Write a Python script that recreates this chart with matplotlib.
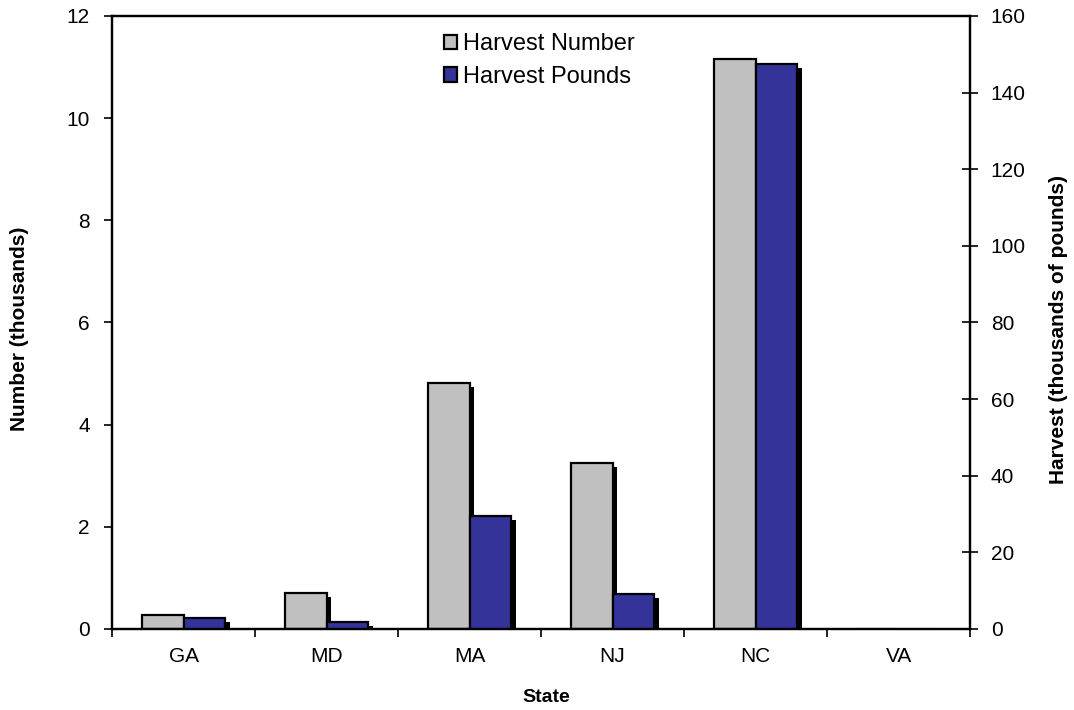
import numpy as np
import matplotlib
matplotlib.use("Agg")
import matplotlib.pyplot as plt
import matplotlib.patheffects as pe
from matplotlib.patches import Patch

plt.rcParams['font.family'] = ['Liberation Sans', 'DejaVu Sans']

states = ["GA", "MD", "MA", "NJ", "NC", "VA"]
harvest_number = [0.27, 0.70, 4.82, 3.25, 11.15, 0.0]      # thousands
harvest_pounds = [2.8, 1.8, 29.6, 9.1, 147.5, 0.0]        # thousands of pounds

fig = plt.figure(figsize=(10.74, 7.10), dpi=100)
ax = fig.add_axes([0.1043, 0.1141, 0.7989, 0.8634])
ax2 = ax.twinx()

x = np.arange(len(states))
w = 0.29
shadow = [pe.SimplePatchShadow(offset=(3.5, -3), shadow_rgbFace='black', alpha=1.0), pe.Normal()]

b1 = ax.bar(x - w / 2, harvest_number, w, color='#C0C0C0', edgecolor='black', linewidth=1.6)
b2 = ax2.bar(x + w / 2, harvest_pounds, w, color='#333399', edgecolor='black', linewidth=1.6)
for bars in (b1, b2):
    for p, v in zip(bars.patches, bars.datavalues):
        if v > 0:
            p.set_path_effects(shadow)
        else:
            p.set_edgecolor('#C8C8C8')

ax.set_xlim(-0.5, len(states) - 0.5)
ax.set_ylim(0, 12)
ax2.set_ylim(0, 160)
ax.set_yticks(range(0, 13, 2))
ax2.set_yticks(range(0, 161, 20))

ax.set_xticks(x)
ax.set_xticklabels(states)
ax.set_xticks(np.arange(-0.5, len(states)), minor=True)
ax.tick_params(axis='x', which='major', length=0, pad=13, labelsize=15)
ax.tick_params(axis='x', which='minor', length=6, width=1.2, direction='out')
ax.tick_params(axis='y', length=6, width=1.2, direction='out', labelsize=15, pad=10)
ax2.tick_params(axis='y', length=11, width=1.2, direction='inout', labelsize=15, pad=9.5)

for a in (ax, ax2):
    for s in a.spines.values():
        s.set_linewidth(1.6)

fig.text(20 / 1074, 1 - 329 / 710, "Number (thousands)", fontsize=15, fontweight='bold',
         rotation=90, ha='center', va='center')
fig.text(1058 / 1074, 1 - 329 / 710, "Harvest (thousands of pounds)", fontsize=15,
         fontweight='bold', rotation=90, ha='center', va='center')
fig.text(546 / 1074, 1 - 697 / 710, "State", fontsize=14, fontweight='bold',
         ha='center', va='center')

handles = [Patch(facecolor='#C0C0C0', edgecolor='black', linewidth=1.6),
           Patch(facecolor='#333399', edgecolor='black', linewidth=1.6)]
ax2.legend(handles, ['Harvest Number', 'Harvest Pounds'], loc='upper left',
           bbox_to_anchor=(0.37, 0.995), frameon=False, fontsize=17,
           handlelength=0.55, handleheight=0.55, handletextpad=0.25, labelspacing=0.45,
           borderaxespad=0.2)

fig.savefig("out.png", dpi=100)
